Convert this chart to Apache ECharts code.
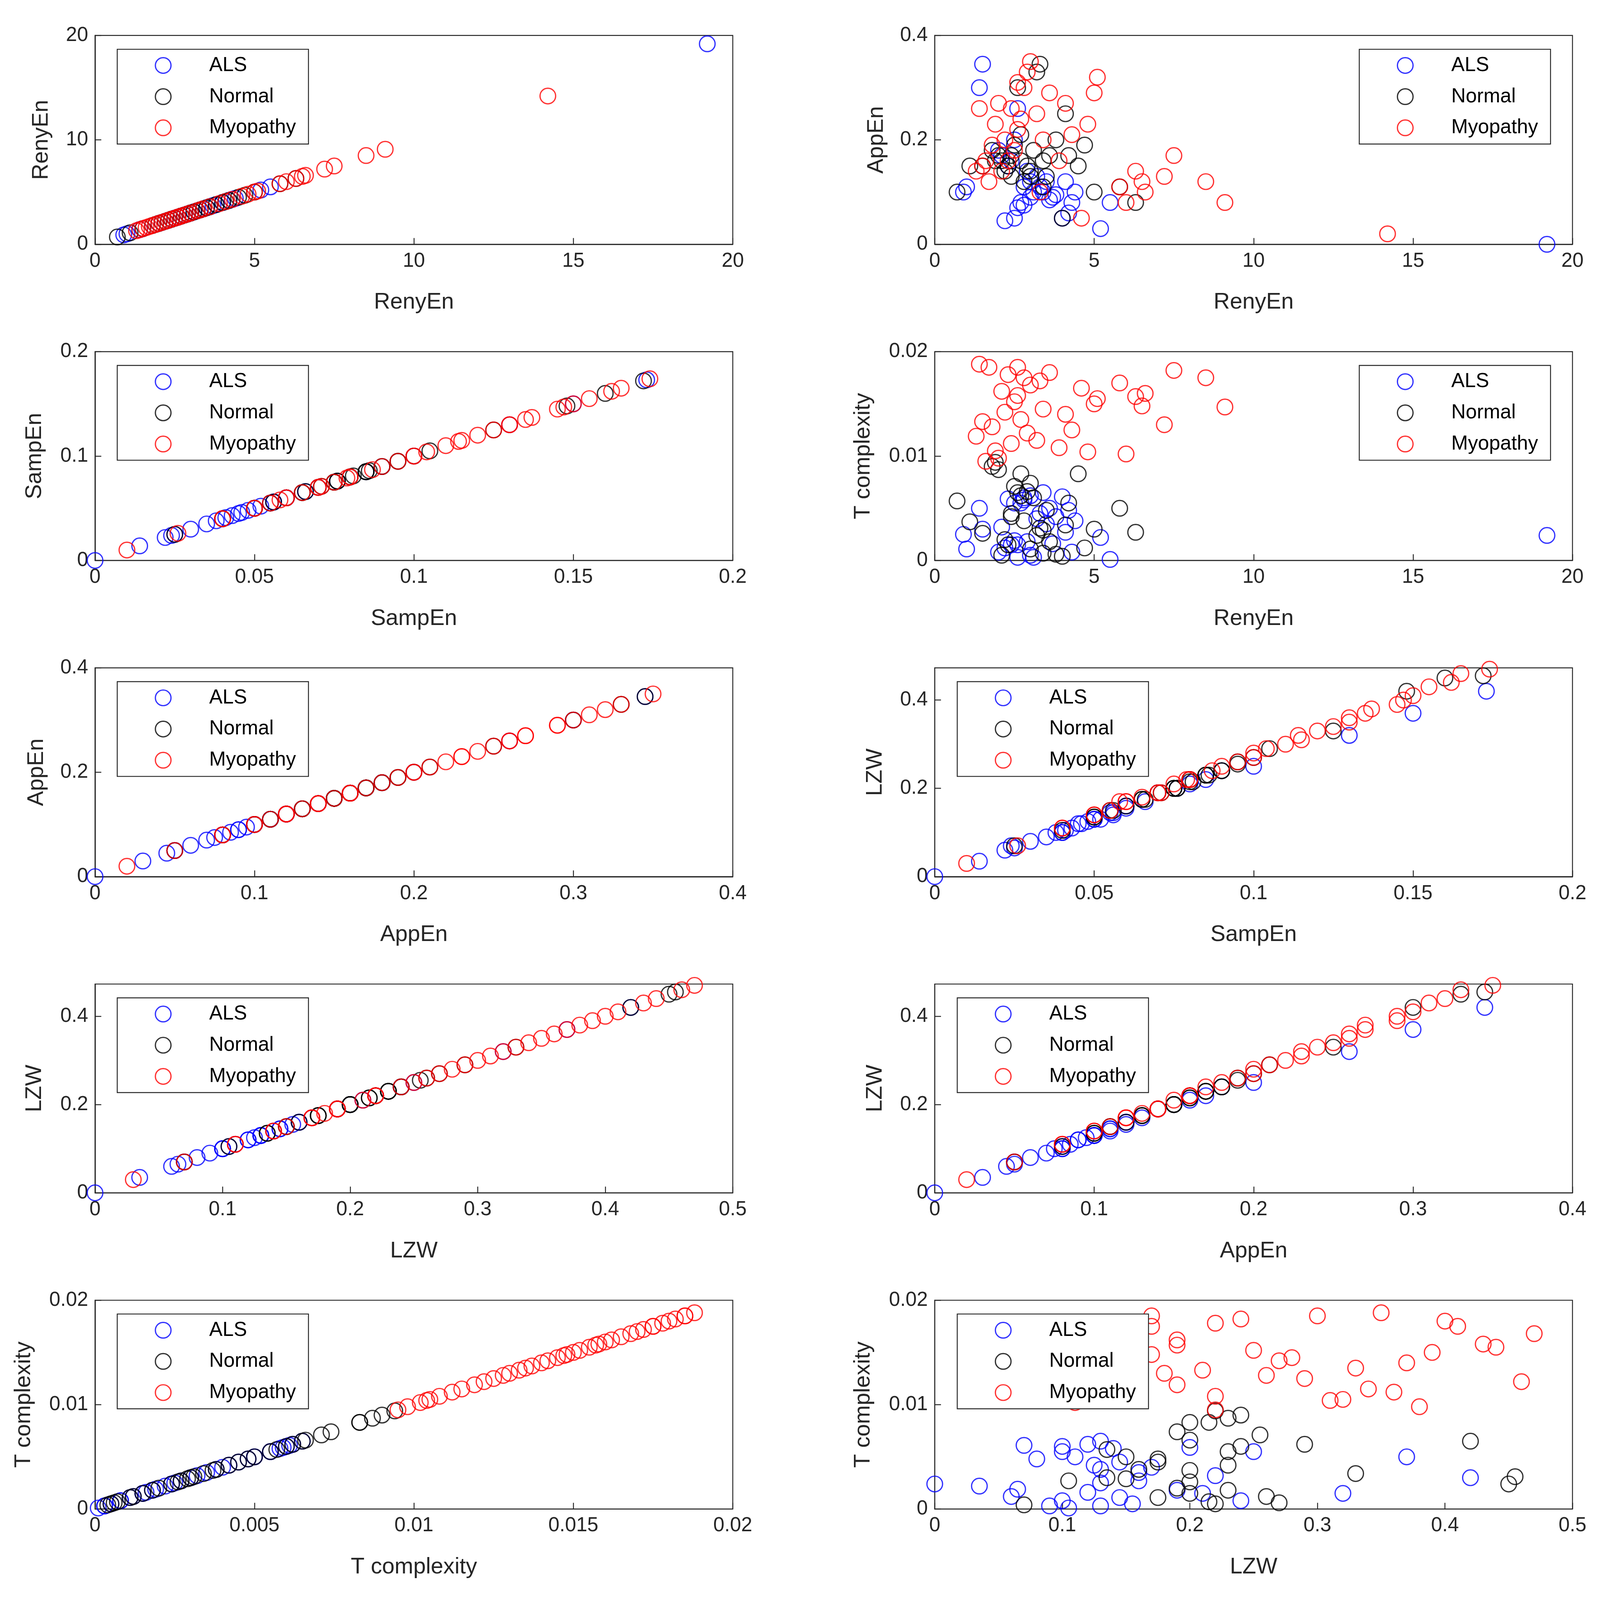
<!DOCTYPE html>
<html>
<head>
<meta charset="utf-8">
<script src="https://cdn.jsdelivr.net/npm/echarts@6/dist/echarts.min.js"></script>
<style>html,body{margin:0;background:#fff;overflow:hidden}#main{width:100vw;height:100vh}</style>
</head>
<body>
<div id="main"></div>
<script>
// per-subject features, one array per feature per group
var groups = ['ALS', 'Normal', 'Myopathy'];
var colors = ['#0000ff', '#000000', '#ff0000'];

var alsReny = [19.2,1.5,1.4,2.2,2.5,2.6,2.7,2.8,3.0,3.1,3.3,3.5,3.6,3.8,4.0,4.2,4.3,5.2,5.5,2.9,2.4,3.2,0.9,1.0,2.3,2.6,3.4,4.1,2.0,2.1,3.7,2.8,3.0,4.4,2.5];
var alsSamp = [0,0.173,0.15,0.022,0.025,0.035,0.04,0.038,0.046,0.05,0.056,0.06,0.043,0.048,0.024,0.03,0.04,0.014,0.041,0.07,0.08,0.066,0.05,0.055,0.076,0.13,0.05,0.06,0.09,0.085,0.045,0.056,0.06,0.052,0.1];
var alsApp = [0,0.345,0.30,0.045,0.05,0.07,0.08,0.075,0.09,0.10,0.11,0.12,0.085,0.095,0.05,0.06,0.08,0.03,0.08,0.14,0.16,0.13,0.10,0.11,0.15,0.26,0.10,0.12,0.18,0.17,0.09,0.11,0.12,0.10,0.2];
var alsLzw = [0,0.42,0.37,0.06,0.065,0.09,0.1,0.1,0.12,0.13,0.145,0.16,0.11,0.125,0.07,0.08,0.1,0.035,0.105,0.19,0.21,0.17,0.13,0.145,0.2,0.32,0.13,0.16,0.24,0.22,0.12,0.14,0.155,0.13,0.25];
var alsTc = [0.0024,0.003,0.005,0.0012,0.0019,0.0003,0.0055,0.006,0.0062,0.0003,0.0045,0.0035,0.005,0.0042,0.0061,0.0048,0.0008,0.0022,0.0001,0.0018,0.0015,0.004,0.0025,0.0011,0.0059,0.0015,0.0065,0.0027,0.0008,0.0032,0.0016,0.0058,0.0005,0.0038,0.0055];

var norReny = [0.7,1.1,1.5,1.8,2.0,2.1,2.2,2.4,2.5,2.6,2.7,2.8,2.9,3.0,3.1,3.2,3.3,3.4,3.5,3.6,3.8,4.0,4.1,4.2,4.5,4.7,5.0,5.8,6.3,2.3,2.7,3.4,1.9,3.0,2.4];
var norSamp = [0.05,0.075,0.076,0.09,0.085,0.08,0.07,0.065,0.095,0.148,0.081,0.06,0.075,0.071,0.09,0.16,0.172,0.08,0.066,0.086,0.1,0.025,0.125,0.085,0.076,0.095,0.05,0.055,0.04,0.075,0.105,0.056,0.08,0.065,0.085];
var norApp = [0.10,0.15,0.15,0.18,0.17,0.16,0.14,0.13,0.19,0.30,0.16,0.12,0.15,0.14,0.18,0.33,0.345,0.16,0.13,0.17,0.20,0.05,0.25,0.17,0.15,0.19,0.10,0.11,0.08,0.15,0.21,0.11,0.16,0.13,0.17];
var norLzw = [0.135,0.2,0.2,0.24,0.23,0.22,0.19,0.175,0.255,0.42,0.215,0.16,0.2,0.19,0.24,0.45,0.455,0.215,0.175,0.23,0.27,0.07,0.33,0.23,0.2,0.26,0.135,0.15,0.105,0.2,0.29,0.15,0.22,0.175,0.23];
var norTc = [0.0057,0.0037,0.0026,0.009,0.0087,0.0005,0.002,0.0045,0.0071,0.0065,0.0083,0.0038,0.0066,0.0074,0.006,0.0024,0.0031,0.0007,0.0048,0.0018,0.0006,0.0004,0.0034,0.0055,0.0083,0.0012,0.003,0.005,0.0027,0.0015,0.0062,0.0029,0.0094,0.0011,0.0042];

var myoReny = [14.2,9.1,8.5,7.5,7.2,6.6,6.5,6.3,6.0,5.8,5.1,5.0,4.8,4.6,4.3,4.1,3.9,3.6,3.4,3.2,3.0,2.9,2.8,2.7,2.6,2.5,2.4,2.3,2.2,2.1,2.0,1.9,1.8,1.7,1.6,1.5,1.4,1.3,3.3,2.6];
var myoSamp = [0.01,0.04,0.058,0.087,0.065,0.05,0.06,0.07,0.04,0.055,0.162,0.145,0.115,0.026,0.104,0.135,0.08,0.147,0.1,0.125,0.174,0.165,0.15,0.12,0.11,0.09,0.13,0.079,0.1,0.071,0.137,0.114,0.095,0.06,0.08,0.075,0.13,0.07,0.05,0.155];
var myoApp = [0.02,0.08,0.12,0.17,0.13,0.10,0.12,0.14,0.08,0.11,0.32,0.29,0.23,0.05,0.21,0.27,0.16,0.29,0.20,0.25,0.35,0.33,0.30,0.24,0.22,0.18,0.26,0.16,0.20,0.14,0.27,0.23,0.19,0.12,0.16,0.15,0.26,0.14,0.10,0.31];
var myoLzw = [0.03,0.11,0.17,0.24,0.18,0.14,0.17,0.19,0.11,0.15,0.44,0.39,0.31,0.07,0.29,0.37,0.22,0.4,0.28,0.34,0.47,0.46,0.41,0.33,0.3,0.25,0.36,0.22,0.27,0.19,0.38,0.32,0.26,0.17,0.22,0.21,0.35,0.19,0.14,0.43];
var myoTc = [0.0137,0.0147,0.0175,0.0182,0.013,0.016,0.0148,0.0157,0.0102,0.017,0.0155,0.015,0.0104,0.0165,0.0125,0.014,0.0108,0.018,0.0145,0.0115,0.0168,0.0122,0.0175,0.0135,0.0185,0.0152,0.0112,0.0178,0.0142,0.0162,0.0098,0.0105,0.0128,0.0185,0.0095,0.0133,0.0188,0.0119,0.0172,0.0158];

var feats = {
  reny: [alsReny, norReny, myoReny],
  samp: [alsSamp, norSamp, myoSamp],
  app: [alsApp, norApp, myoApp],
  lzw: [alsLzw, norLzw, myoLzw],
  tc: [alsTc, norTc, myoTc]
};
var names = {reny: 'RenyEn', samp: 'SampEn', app: 'AppEn', lzw: 'LZW', tc: 'T complexity'};
var ranges = {reny: [20, 5, 10], samp: [0.2, 0.05, 0.1], app: [0.4, 0.1, 0.2], lzw: [0.5, 0.1, 0.2], tc: [0.02, 0.005, 0.01]};

// panels: x feature, y feature, column, row, ylabel gap, legend side
var panels = [
  ['reny','reny',0,0,135,'l'], ['reny','app',1,0,150,'r'],
  ['samp','samp',0,1,156,'l'], ['reny','tc',1,1,192,'r'],
  ['app','app',0,2,150,'l'], ['samp','lzw',1,2,153,'m'],
  ['lzw','lzw',0,3,156,'l'], ['app','lzw',1,3,153,'m'],
  ['tc','tc',0,4,192,'l'], ['lzw','tc',1,4,192,'m']
];

// layout is measured on a 5118x4873 page; scale to the actual window
var sx = window.innerWidth / 5118, sy = window.innerHeight / 4873, s = Math.min(sx, sy);
var colLeft = [304, 2990], plotW = 2040, plotH = 636;
var rowTop = [108, 1071, 2034, 2997, 3960];
var font = 'Liberation Sans';

var grid = [], xAxis = [], yAxis = [], series = [], legend = [];
panels.forEach(function (p, i) {
  var fx = p[0], fy = p[1];
  grid.push({left: colLeft[p[2]] * sx, top: rowTop[p[3]] * sy, width: plotW * sx, height: plotH * sy,
    show: true, borderColor: '#262626', borderWidth: 3 * s, backgroundColor: '#fff'});
  var ax = function (f, isY, gap) {
    var r = ranges[f];
    var max = r[0];
    if (f === 'lzw' && isY) max = 0.473;
    return {gridIndex: i, type: 'value', min: 0, max: max, interval: isY ? r[2] : r[1],
      name: names[f], nameLocation: 'middle', nameGap: gap * s,
      nameTextStyle: {fontFamily: font, fontSize: 72 * s, color: '#262626'},
      axisLine: {show: true, onZero: false, lineStyle: {color: '#262626', width: 3 * s}},
      axisTick: {show: true, inside: true, length: 20 * s, lineStyle: {color: '#262626', width: 3 * s}},
      axisLabel: {fontFamily: font, fontSize: 64 * s, color: '#262626', margin: 22 * s,
        showMaxLabel: !(isY && f === 'lzw'),
        formatter: function (v) { return String(+v.toFixed(4)); }},
      splitLine: {show: false}};
  };
  xAxis.push(ax(fx, false, 150));
  yAxis.push(ax(fy, true, p[4]));
  groups.forEach(function (g, k) {
    var xs = feats[fx][k], ys = feats[fy][k];
    series.push({type: 'scatter', name: g, xAxisIndex: i, yAxisIndex: i,
      symbol: 'circle', symbolSize: 50 * s,
      itemStyle: {color: 'transparent', borderColor: colors[k], borderWidth: 4 * s},
      data: xs.map(function (v, j) { return [v, ys[j]]; })});
  });
  var lx = p[5] === 'l' ? 375 : p[5] === 'r' ? 4348 : 3062;
  legend.push({orient: 'vertical', left: lx * sx, top: (rowTop[p[3]] + 42) * sy,
    backgroundColor: '#fff', borderColor: '#262626', borderWidth: 3 * s,
    padding: [20 * s, 40 * s, 20 * s, 120 * s], itemGap: 36 * s, itemWidth: 50 * s, itemHeight: 50 * s,
    textStyle: {fontFamily: font, fontSize: 64 * s, color: '#000', padding: [0, 0, 0, 116 * s]},
    data: groups.map(function (g, k) {
      return {name: g, icon: 'circle',
        itemStyle: {color: 'transparent', borderColor: colors[k], borderWidth: 4 * s}};
    })});
});

var chart = echarts.init(document.getElementById('main'));
chart.setOption({animation: false, backgroundColor: '#fff',
  grid: grid, xAxis: xAxis, yAxis: yAxis, legend: legend, series: series});
</script>
</body>
</html>
